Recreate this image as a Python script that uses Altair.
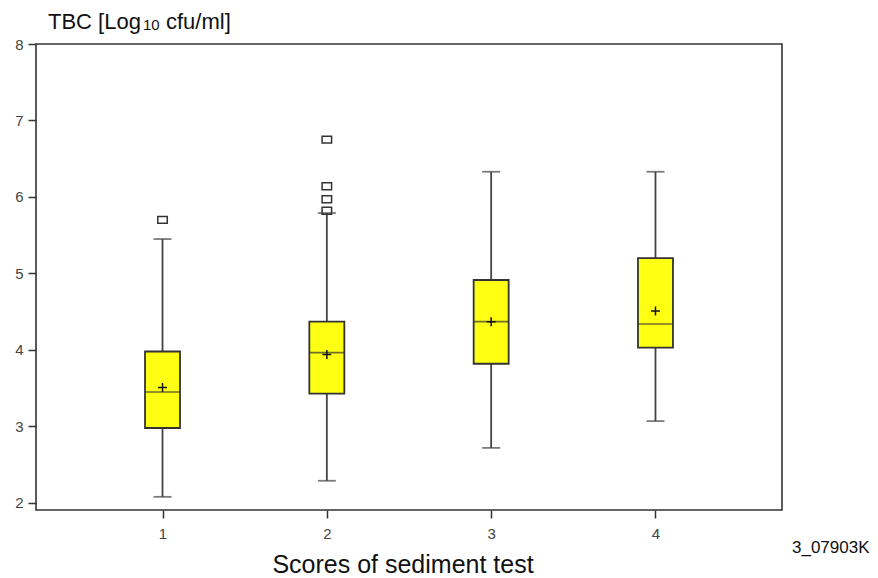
import altair as alt
import pandas as pd

# Box-plot summary per sediment-test score (TBC, log10 cfu/ml)
scores = [1, 2, 3, 4]
whisker_low = [2.08, 2.29, 2.72, 3.07]
q1 = [2.98, 3.43, 3.82, 4.03]
median = [3.45, 3.965, 4.37, 4.34]
q3 = [3.98, 4.37, 4.915, 5.20]
whisker_high = [5.45, 5.79, 6.33, 6.33]
mean = [3.51, 3.94, 4.37, 4.51]
y_ticks = [2, 3, 4, 5, 6, 7, 8]

# Outlying observations
outlier_score = [1, 2, 2, 2, 2]
outlier_value = [5.70, 6.75, 6.14, 5.97, 5.82]

summary = pd.DataFrame({
    "score": scores, "low": whisker_low, "q1": q1, "median": median,
    "q3": q3, "high": whisker_high, "mean": mean,
})
outliers = pd.DataFrame({"score": outlier_score, "value": outlier_value})

W, H = 746, 466
FONT = "Liberation Sans"
INK = "#111111"

x_scale = alt.Scale(domain=[0.23, 4.77], nice=False, zero=False, padding=0)
y_scale = alt.Scale(domain=[1.908, 8.0], nice=False, zero=False, padding=0)

x_enc = alt.X("score:Q", scale=x_scale, axis=alt.Axis(
    values=scores, format="d", title=None, grid=False, domain=False,
    tickSize=8, tickColor="#333333", tickWidth=1.5, labelFontSize=15,
    labelColor="#444444", labelFont=FONT, labelPadding=8))

base = alt.Chart(summary)

whiskers = base.mark_rule(color="#444444", strokeWidth=1.8).encode(
    x=x_enc,
    y=alt.Y("low:Q", scale=y_scale, axis=alt.Axis(
        values=y_ticks, format="d", title=None, grid=False, domain=False,
        tickSize=8, tickColor="#333333", tickWidth=1.5, labelFontSize=15,
        labelColor="#444444", labelFont=FONT, labelPadding=5)),
    y2="high:Q",
)

cap_low = base.mark_tick(orient="horizontal", size=18, thickness=1.8,
                         color="#444444").encode(
    x=alt.X("score:Q", scale=x_scale), y=alt.Y("low:Q", scale=y_scale))
cap_high = base.mark_tick(orient="horizontal", size=18, thickness=1.8,
                          color="#444444").encode(
    x=alt.X("score:Q", scale=x_scale), y=alt.Y("high:Q", scale=y_scale))

boxes = base.mark_bar(size=35, fill="#FFFF14", stroke="#333333",
                      strokeWidth=1.8).encode(
    x=alt.X("score:Q", scale=x_scale),
    y=alt.Y("q1:Q", scale=y_scale), y2="q3:Q")

medians = base.mark_tick(orient="horizontal", size=35, thickness=1.6,
                         color="#333333").encode(
    x=alt.X("score:Q", scale=x_scale), y=alt.Y("median:Q", scale=y_scale))

means = base.mark_point(shape="M-1,0H1M0,-1V1", size=80, filled=False,
                        stroke=INK, strokeWidth=1.5, opacity=1).encode(
    x=alt.X("score:Q", scale=x_scale), y=alt.Y("mean:Q", scale=y_scale))

outlier_pts = alt.Chart(outliers).mark_point(
    shape="M-1,-0.72H1V0.72H-1Z", size=90, filled=False, stroke="#333333",
    strokeWidth=1.5, opacity=1).encode(
    x=alt.X("score:Q", scale=x_scale), y=alt.Y("value:Q", scale=y_scale))

# Axis / figure labels
lab = alt.Chart(pd.DataFrame({"k": [0]}))
title_main = lab.mark_text(text="TBC [Log", align="left", baseline="alphabetic",
                           font=FONT, fontSize=22, color=INK).encode(
    x=alt.value(12), y=alt.value(-15))
title_sub = lab.mark_text(text="10", align="left", baseline="alphabetic",
                          font=FONT, fontSize=15, color=INK).encode(
    x=alt.value(107), y=alt.value(-14))
title_rest = lab.mark_text(text="cfu/ml]", align="left", baseline="alphabetic",
                           font=FONT, fontSize=22, color=INK).encode(
    x=alt.value(130), y=alt.value(-15))
x_title = lab.mark_text(text="Scores of sediment test", align="center",
                        baseline="alphabetic", font=FONT, fontSize=25,
                        color=INK).encode(
    x=alt.value(367), y=alt.value(H + 63))
code_label = lab.mark_text(text="3_07903K", align="left", baseline="alphabetic",
                           font=FONT, fontSize=17, color=INK).encode(
    x=alt.value(756), y=alt.value(H + 43))

chart = alt.layer(
    whiskers, cap_low, cap_high, boxes, medians, means, outlier_pts,
    title_main, title_sub, title_rest, x_title, code_label,
).properties(
    width=W, height=H,
    autosize=alt.AutoSizeParams(type="none"),
    padding={"left": 36, "top": 44, "right": 878 - 36 - W, "bottom": 578 - 44 - H},
    background="white",
).configure_view(
    stroke="#333333", strokeWidth=1.6,
)

chart.save("out.html", embed_options={"renderer": "svg", "actions": False})
